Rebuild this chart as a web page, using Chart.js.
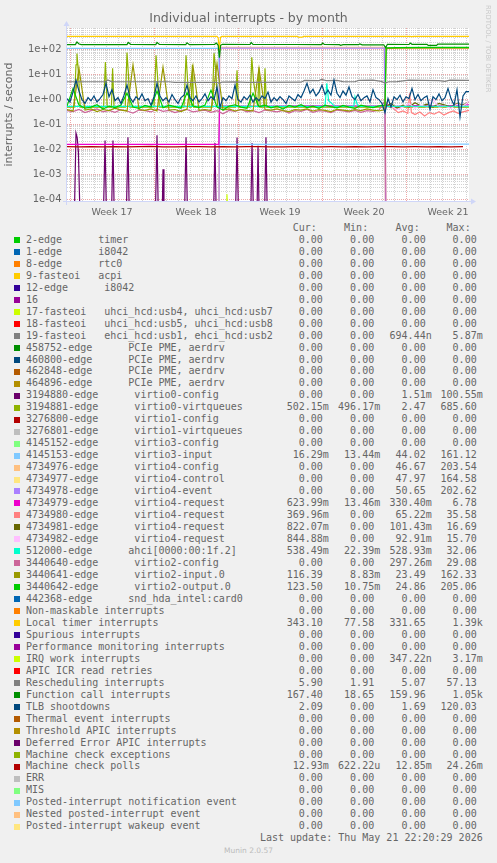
<!DOCTYPE html>
<html>
<head>
<meta charset="utf-8">
<title>Individual interrupts - by month</title>
<script src="https://cdn.jsdelivr.net/npm/chart.js@4.4.1/dist/chart.umd.min.js"></script>
<style>
  body { margin: 0; background: #F0F0F0; width: 497px; height: 863px; position: relative; overflow: hidden; }
  #chart { position: absolute; left: 0; top: 0; }
  #title { position: absolute; left: 0; top: 10px; width: 497px; text-align: center; font: 12.5px "DejaVu Sans"; line-height: 15px; color: #666; }
  #credit { position: absolute; left: 484px; top: 5px; writing-mode: vertical-rl; font: 6.8px "DejaVu Sans"; line-height: 8px; color: #C8C8C8; }
  #munin { position: absolute; left: 0; top: 846px; width: 497px; text-align: center; font: 7.5px "DejaVu Sans"; line-height: 9px; color: #BBBBBB; }
  .t { position: absolute; font: 10px "DejaVu Sans Mono"; line-height: 12px; color: #666; white-space: pre; }
  .r { text-align: right; }
  .sw { position: absolute; width: 6px; height: 6px; }
</style>
</head>
<body>
<canvas id="chart" width="497" height="220"></canvas>
<div id="title">Individual interrupts - by month</div>
<div id="credit">RRDTOOL / TOBI OETIKER</div>
<div id="legend"></div>
<div id="munin">Munin 2.0.57</div>
<script>
// munin colour cycle
const palette = ['#00CC00','#0066B3','#FF8000','#FFCC00','#330099','#990099','#CCFF00','#FF0000','#808080',
  '#008F00','#00487D','#B35A00','#B38F00','#6B006B','#8FB300','#B30000','#BEBEBE',
  '#80FF80','#80C9FF','#FFC080','#FFE680','#AA80FF','#EE00CC','#FF8080',
  '#666600','#FFBFFF','#00FFCC','#CC6699','#999900'];

const legendLabels = [
  '2-edge      timer', '1-edge      i8042', '8-edge      rtc0', '9-fasteoi   acpi', '12-edge      i8042', '16',
  '17-fasteoi   uhci_hcd:usb4, uhci_hcd:usb7', '18-fasteoi   uhci_hcd:usb5, uhci_hcd:usb8',
  '19-fasteoi   ehci_hcd:usb1, ehci_hcd:usb2',
  '458752-edge      PCIe PME, aerdrv', '460800-edge      PCIe PME, aerdrv',
  '462848-edge      PCIe PME, aerdrv', '464896-edge      PCIe PME, aerdrv',
  '3194880-edge      virtio0-config', '3194881-edge      virtio0-virtqueues',
  '3276800-edge      virtio1-config', '3276801-edge      virtio1-virtqueues',
  '4145152-edge      virtio3-config', '4145153-edge      virtio3-input',
  '4734976-edge      virtio4-config', '4734977-edge      virtio4-control',
  '4734978-edge      virtio4-event', '4734979-edge      virtio4-request',
  '4734980-edge      virtio4-request', '4734981-edge      virtio4-request',
  '4734982-edge      virtio4-request', '512000-edge      ahci[0000:00:1f.2]',
  '3440640-edge      virtio2-config', '3440641-edge      virtio2-input.0',
  '3440642-edge      virtio2-output.0', '442368-edge      snd_hda_intel:card0',
  'Non-maskable interrupts', 'Local timer interrupts', 'Spurious interrupts',
  'Performance monitoring interrupts', 'IRQ work interrupts', 'APIC ICR read retries',
  'Rescheduling interrupts', 'Function call interrupts', 'TLB shootdowns',
  'Thermal event interrupts', 'Threshold APIC interrupts', 'Deferred Error APIC interrupts',
  'Machine check exceptions', 'Machine check polls', 'ERR', 'MIS',
  'Posted-interrupt notification event', 'Nested posted-interrupt event', 'Posted-interrupt wakeup event'
];

const Z = '0.00';
const curVals = [
  Z,Z,Z,Z,Z,Z,Z,Z,Z,Z,
  Z,Z,Z,Z,'502.15m',Z,Z,Z,'16.29m',Z,
  Z,Z,'623.99m','369.96m','822.07m','844.88m','538.49m',Z,'116.39','123.50',
  Z,Z,'343.10',Z,Z,Z,Z,'5.90','167.40','2.09',
  Z,Z,Z,Z,'12.93m',Z,Z,Z,Z,Z];
const minVals = [
  Z,Z,Z,Z,Z,Z,Z,Z,Z,Z,
  Z,Z,Z,Z,'496.17m',Z,Z,Z,'13.44m',Z,
  Z,Z,'13.46m',Z,Z,Z,'22.39m',Z,'8.83m','10.75m',
  Z,Z,'77.58',Z,Z,Z,Z,'1.91','18.65',Z,
  Z,Z,Z,Z,'622.22u',Z,Z,Z,Z,Z];
const avgVals = [
  Z,Z,Z,Z,Z,Z,Z,Z,'694.44n',Z,
  Z,Z,Z,'1.51m','2.47',Z,Z,Z,'44.02','46.67',
  '47.97','50.65','330.40m','65.22m','101.43m','92.91m','528.93m','297.26m','23.49','24.86',
  Z,Z,'331.65',Z,Z,'347.22n',Z,'5.07','159.96','1.69',
  Z,Z,Z,Z,'12.85m',Z,Z,Z,Z,Z];
const maxVals = [
  Z,Z,Z,Z,Z,Z,Z,Z,'5.87m',Z,
  Z,Z,Z,'100.55m','685.60',Z,Z,Z,'161.12','203.54',
  '164.58','202.62','6.78','35.58','16.69','15.70','32.06','29.08','162.33','205.06',
  Z,Z,'1.39k',Z,Z,'3.17m',Z,'57.13','1.05k','120.03',
  Z,Z,Z,Z,'24.26m',Z,Z,Z,Z,Z];

// axes: x in days from the left edge of the graph
const xDays = 33.5;
const weekStarts = [0.25, 7.25, 14.25, 21.25, 28.25];
const weekMids = [3.75, 10.75, 17.75, 24.75, 31.75];
const weekLabels = ['Week 17', 'Week 18', 'Week 19', 'Week 20', 'Week 21'];
const yMin = 8.55e-5, yMax = 745;
const yDecades = [1e-4, 1e-3, 1e-2, 1e-1, 1, 10, 100];
const yDecadeLabels = ['1e-04', '1e-03', '1e-02', '1e-01', '1e+00', '1e+01', '1e+02'];

// series ([day, value] pairs unless noted); values under yMin run off the bottom
const localTimer = [[0,345],[12.5,345],[12.6,300],[12.68,100],[12.8,320],[12.9,345],[19.2,345],[19.3,318],[19.6,318],[19.7,345],[28.6,345],[28.7,335],[28.9,345],[33.5,343]];
const functionCall = [[0,160],[0.7,160],[0.83,205],[1.0,170],[1.2,160],[5.0,160],[5.1,195],[5.3,165],[7.4,160],[7.5,195],[7.7,162],
  [9.9,160],[10.0,190],[10.2,160],[12.3,165],[12.45,185],[12.6,150],[12.7,48],[12.8,150],[12.95,165],[15.25,162],[15.35,195],[15.5,165],
  [19,162],[21.2,160],[21.3,185],[21.45,162],[22.7,160],[22.8,150],[23,160],[24.3,160],[24.4,172],[24.6,158],[26.4,158],[26.55,120],
  [26.7,165],[28.5,162],[28.6,185],[28.75,165],[30.0,165],[30.1,150],[30.8,150],[30.9,168],[33.5,167]];
const rescheduling = [[0,5.2],[3.2,5.2],[3.4,6.1],[3.7,5.3],[8.5,5.2],[9,4.9],[12.5,4.9],[12.7,4.5],[12.9,5.0],[14,5.1],[15,4.9],
  [19.5,5.0],[19.8,5.9],[21,5.8],[21.2,6.4],[21.6,5.8],[22.5,5.9],[23,5.3],[24,5.2],[24.3,5.9],[25.5,6.0],[26.2,5.4],[26.5,4.6],
  [26.8,5.2],[27.5,5.3],[28.5,6.0],[31,5.8],[31.5,5.4],[31.9,6.0],[33.5,5.9]];
const virtio3Input = [[0,114],[12.65,114],[12.72,0.016],[33.5,0.0163]];
const virtio4Config = [[12.66,1e-5],[12.72,124],[26.45,124],[26.55,1e-5]];
const virtio4Control = [[12.66,1e-5],[12.72,120],[26.45,120],[26.55,1e-5]];
const virtio4Event = [[12.66,1e-5],[12.72,116],[26.45,116],[26.55,1e-5]];
const virtio4Req0 = [[0,0.016],[12.65,0.016],[12.72,0.55],[16,0.54],[20,0.56],[26.4,0.55],[26.6,0.62],[27,0.52],[29,0.58],[31,0.55],[33.5,0.62]];
const virtio4Req1 = [[26.55,0.8],[26.8,0.6],[27.2,0.45],[27.6,0.3],[28.0,0.35],[28.4,0.28],[28.55,1.8],[28.7,0.3],[29.0,0.25],[29.4,0.32],
  [29.8,0.22],[30.2,0.3],[30.6,0.26],[31.0,0.33],[31.4,0.24],[31.8,0.3],[32.2,0.35],[32.6,0.28],[33.0,0.32],[33.5,0.37]];
const virtio4Req2 = [[26.55,0.5],[27,0.7],[27.5,0.45],[28,0.6],[28.5,0.5],[29,0.75],[29.5,0.55],[30,0.65],[30.5,0.5],[31,0.7],[31.5,0.6],[32,0.5],[32.5,0.7],[33,0.6],[33.5,0.82]];
const virtio4Req3 = [[26.55,0.45],[27,0.55],[27.5,0.4],[28,0.5],[28.5,0.7],[29,0.45],[29.5,0.6],[30,0.5],[30.5,1.0],[31,0.5],[31.5,0.55],[32,0.45],[32.5,0.65],[33,0.55],[33.5,0.84]];
const ahci = [[0,0.53],[21.5,0.53],[21.65,4.5],[21.8,0.9],[22.0,0.75],[22.3,0.53],[23.9,0.53],[24.0,1.3],[24.2,0.6],[24.4,0.53],[33.5,0.54]];
const virtio0Queues = [[0,0.5],[0.6,0.5],[0.75,25],[0.83,70],[0.95,12],[1.1,0.5],[3.05,0.5],[3.2,32],[3.35,0.5],[3.7,0.5],[3.8,18],[3.92,0.5],
  [4.85,0.5],[5.0,78],[5.12,10],[5.25,0.5],[7.25,0.5],[7.42,60],[7.55,8],[7.7,0.5],[9.75,0.5],[9.92,60],[10.05,6],[10.2,0.5],
  [10.35,0.5],[10.45,25],[10.55,0.5],[12.1,0.5],[12.25,73],[12.4,15],[12.55,0.5],[14.05,0.5],[14.17,15],[14.3,0.5],
  [15.25,0.5],[15.4,50],[15.55,5],[15.9,0.5],[16.0,20],[16.1,0.5],[16.42,0.5],[16.5,18],[16.62,0.5],[33.5,0.5]];
const virtio0Config = [[0.6,1e-5],[0.75,0.045],[0.85,0.03],[0.95,0.008],[1.1,1e-5],[1.2,null],
  [3.02,1e-5],[3.17,0.023],[3.3,1e-5],[3.4,null],[3.7,1e-5],[3.83,0.023],[3.95,1e-5],[4.0,null],
  [4.93,1e-5],[5.08,0.031],[5.2,1e-5],[5.3,null],[7.35,1e-5],[7.5,0.037],[7.62,1e-5],[7.7,null],
  [7.92,1e-5],[8.0,0.0016],[8.08,1e-5],[8.2,null],[9.78,1e-5],[9.92,0.031],[10.05,1e-5],[10.1,null],
  [12.2,1e-5],[12.33,0.018],[12.45,1e-5],[12.5,null],[14.03,1e-5],[14.17,0.03],[14.3,1e-5],[14.4,null],
  [15.3,1e-5],[15.42,0.018],[15.55,1e-5],[15.6,null],[15.82,1e-5],[15.92,0.014],[16.02,1e-5],[16.1,null],
  [16.45,1e-5],[16.58,0.031],[16.7,1e-5]];
const irqWork = [[13.25,1e-5],[13.33,1.6e-4],[13.42,1e-5]];

// half-day samples of the busy band below 1e+00 (day 0 .. 26.5)
const halfDay = 0.5;
const virtio2OutLow = [0.55,2.8,0.6,0.45,0.5,0.62,0.42,0.55,0.48,0.6, 1.8,0.5,0.44,0.58,0.5,2.2,0.47,0.6,0.52,0.45,
  1.9,0.55,0.48,0.6,2.4,0.5,0.38,0.55,0.62,0.5, 0.45,1.8,0.52,0.6,0.47,0.55,0.42,0.58,0.5,0.62,
  0.48,0.55,0.45,0.6,0.52,0.47,0.58,0.5,0.44,0.6, 0.52,0.48,0.56,0.6];
const virtio2OutHigh = [[26.6,118],[27.5,122],[30,124],[33.5,123.5]];
const virtio2InLow = [0.4,0.35,18,0.38,0.42,0.33,0.4,0.36,0.45,0.38, 0.35,25,0.4,0.37,0.42,0.35,20,0.38,0.4,0.33,
  0.42,22,0.37,0.4,0.36,28,0.38,0.42,0.35,0.4, 0.37,0.35,18,0.4,0.38,0.42,0.36,0.33,0.4,0.38,
  0.42,0.35,0.4,0.37,0.33,0.41,0.38,0.35,0.4,0.36, 0.42,0.38,0.35,0.4];
const virtio2InHigh = [[26.6,114],[28,116],[31,117],[33.5,116.4]];
const virtio2ConfigLow = [0.36,0.33,0.4,0.3,0.36,0.42,0.32,0.37,0.31,0.4, 0.35,0.29,0.38,0.36,0.32,0.41,0.34,0.37,0.3,0.36,
  0.4,0.32,0.35,0.38,0.31,0.36,0.27,0.37,0.34,0.4, 0.32,0.36,0.3,0.38,0.35,0.32,0.37,0.29,0.36,0.34,
  0.4,0.31,0.36,0.34,0.3,0.38,0.35,0.32,0.37,0.31, 0.36,0.34,0.38,0.9];
const virtio2ConfigTail = [[26.6,1e-5]];

// quarter-day samples
const tlbStep = 0.25;
const tlbValues = [
  1.1,0.8,2.0,6.0,2.2,1.0,0.7,1.2,0.9,1.4,
  0.8,1.1,1.6,4.5,1.3,2.5,0.9,1.2,0.7,1.5,
  3.8,1.2,0.8,1.3,1.0,1.7,0.9,1.1,0.6,1.3,
  4.5,1.4,0.9,1.2,0.8,1.6,1.0,0.7,1.2,1.5,
  3.8,1.2,0.9,1.4,0.8,1.1,1.7,0.9,1.3,1.0,
  3.2,0.5,1.2,0.9,1.4,1.1,3.8,1.0,0.8,1.3,
  1.0,1.5,0.8,1.2,0.9,1.4,1.1,2.0,0.8,1.2,
  0.9,1.3,1.0,0.7,1.4,1.1,0.9,1.6,1.2,2.2,
  4.5,1.8,2.6,1.4,2.0,3.8,1.6,2.4,1.5,6.0,
  1.8,1.2,2.2,1.5,3.2,1.3,1.0,1.6,0.9,1.2,
  1.4,0.8,2.5,1.2,1.0,0.7,0.3,1.1,0.5,1.3,
  1.0,1.5,0.8,1.3,1.1,2.8,1.0,1.6,0.9,1.2,
  1.4,0.4,1.3,1.0,1.7,0.9,1.2,2.8,1.1,0.6,
  2.5,0.2,1.4,2.1,2.09];

// daily samples
const mcpStep = 1;
const mcpValues = [0.0129,0.0127,0.0131,0.0128,0.013,0.0126,0.0129,0.0132,0.0128,0.0127,0.013,0.0129,0.0128,0.0131,0.0127,0.0129,0.013,
  0.0128,0.0126,0.0129,0.0131,0.0128,0.0129,0.0127,0.013,0.0128,0.0129,0.0131,0.0127,0.0129,0.0128,0.013,0.0128,0.0129];

function fromPairs(pairs) { return pairs.map(p => ({ x: p[0], y: p[1] })); }
function fromSteps(values, step) { return values.map((v, i) => ({ x: i * step, y: v })); }

// legend index -> data
const series = [
  [13, fromPairs(virtio0Config)],
  [14, fromPairs(virtio0Queues)],
  [18, fromPairs(virtio3Input)],
  [19, fromPairs(virtio4Config)],
  [20, fromPairs(virtio4Control)],
  [21, fromPairs(virtio4Event)],
  [22, fromPairs(virtio4Req0)],
  [23, fromPairs(virtio4Req1)],
  [24, fromPairs(virtio4Req2)],
  [25, fromPairs(virtio4Req3)],
  [26, fromPairs(ahci)],
  [27, fromSteps(virtio2ConfigLow, halfDay).concat(fromPairs(virtio2ConfigTail))],
  [28, fromSteps(virtio2InLow, halfDay).concat(fromPairs(virtio2InHigh))],
  [29, fromSteps(virtio2OutLow, halfDay).concat(fromPairs(virtio2OutHigh))],
  [32, fromPairs(localTimer)],
  [35, fromPairs(irqWork)],
  [37, fromPairs(rescheduling)],
  [38, fromPairs(functionCall)],
  [39, fromSteps(tlbValues, tlbStep)],
  [44, fromSteps(mcpValues, mcpStep)]
];

const datasets = series.map(([idx, data]) => ({
  label: legendLabels[idx],
  data: data,
  borderColor: palette[idx % palette.length],
  borderWidth: 1.2,
  pointRadius: 0,
  tension: 0,
  fill: false,
  spanGaps: false,
  order: -idx   // later munin fields painted on top
}));

const minorGrid = 'rgba(143,143,143,0.4)';
const majorGrid = 'rgba(222,80,80,0.5)';
function gridColor(c) {
  if (!c.tick) return 'rgba(0,0,0,0)';
  if (c.tick.kind === 'major') return majorGrid;
  if (c.tick.kind === 'minor') return minorGrid;
  return 'rgba(0,0,0,0)';
}

const munin = {
  id: 'munin',
  beforeDraw(chart) {
    const { ctx, chartArea: a } = chart;
    ctx.save();
    ctx.fillStyle = '#FFFFFF';
    ctx.fillRect(a.left, a.top, a.right - a.left, a.bottom - a.top);
    ctx.restore();
  },
  afterDatasetsDraw(chart) {
    const { ctx, chartArea: a } = chart;
    const x0 = a.left - 0.5, y0 = a.bottom + 0.5;
    ctx.save();
    ctx.strokeStyle = '#CFD6F8';
    ctx.fillStyle = '#CFD6F8';
    ctx.lineWidth = 1;
    ctx.beginPath();
    ctx.moveTo(a.left - 4, y0); ctx.lineTo(a.right + 3, y0);
    ctx.moveTo(x0, a.bottom + 4); ctx.lineTo(x0, a.top - 2);
    ctx.stroke();
    ctx.beginPath();
    ctx.moveTo(a.right + 2, y0 - 3); ctx.lineTo(a.right + 7, y0); ctx.lineTo(a.right + 2, y0 + 3);
    ctx.closePath(); ctx.fill();
    ctx.beginPath();
    ctx.moveTo(x0 - 3, a.top - 2); ctx.lineTo(x0, a.top - 7); ctx.lineTo(x0 + 3, a.top - 2);
    ctx.closePath(); ctx.fill();
    ctx.restore();
  }
};

new Chart(document.getElementById('chart'), {
  type: 'line',
  data: { datasets },
  options: {
    responsive: false,
    animation: false,
    devicePixelRatio: 1,
    layout: { padding: { left: 0, right: 28, top: 28, bottom: 0 } },
    plugins: { legend: { display: false }, tooltip: { enabled: false } },
    scales: {
      x: {
        type: 'linear',
        bounds: 'data',
        min: 0,
        max: xDays,
        afterFit(scale) { scale.height = 19; },
        afterBuildTicks(scale) {
          const ticks = [];
          for (let d = 0.25; d < xDays; d += 1) {
            ticks.push({ value: d, kind: weekStarts.includes(d) ? 'major' : 'minor' });
          }
          weekMids.forEach((v, i) => ticks.push({ value: v, kind: 'label', text: weekLabels[i] }));
          scale.ticks = ticks;
        },
        ticks: {
          autoSkip: false,
          maxRotation: 0,
          minRotation: 0,
          padding: 5.5,
          color: '#666',
          font: { family: 'DejaVu Sans', size: 9.5 },
          callback: (v, i, ticks) => ticks[i].kind === 'label' ? ticks[i].text : ''
        },
        grid: { drawTicks: false, lineWidth: 1, color: gridColor },
        border: { display: false, dash: [1, 1] }
      },
      y: {
        type: 'logarithmic',
        bounds: 'data',
        min: yMin,
        max: yMax,
        afterFit(scale) { scale.width = 67; },
        afterBuildTicks(scale) {
          const ticks = [];
          yDecades.forEach(dec => {
            ticks.push({ value: dec, kind: 'major' });
            for (let m = 2; m <= 9; m++) {
              if (m * dec < yMax) ticks.push({ value: m * dec, kind: 'minor' });
            }
          });
          scale.ticks = ticks;
        },
        ticks: {
          autoSkip: false,
          padding: 5.5,
          color: '#666',
          font: { family: 'DejaVu Sans', size: 10 },
          callback: v => {
            const i = yDecades.indexOf(v);
            return i >= 0 ? yDecadeLabels[i] : '';
          }
        },
        grid: { drawTicks: false, lineWidth: 1, color: gridColor },
        border: { display: false, dash: [1, 1] },
        title: {
          display: true,
          text: 'interrupts / second',
          color: '#666',
          font: { family: 'DejaVu Sans', size: 11 },
          padding: { top: 3, bottom: 0 }
        }
      }
    }
  },
  plugins: [munin]
});

// legend table below the graph
const legend = document.getElementById('legend');
const colEdges = [328.8, 380.2, 431.7, 482.7];
const rowTop = 233.8, rowStep = 11.97;

function addText(text, top, left, rightEdge) {
  const el = document.createElement('div');
  el.className = 't';
  el.textContent = text;
  el.style.top = top + 'px';
  if (rightEdge !== undefined) {
    el.classList.add('r');
    el.style.right = (497 - rightEdge) + 'px';
  } else {
    el.style.left = left + 'px';
  }
  legend.appendChild(el);
}
function withSuffix(s) { return /[0-9]$/.test(s) ? s + ' ' : s; }

['Cur:  ', 'Min:  ', 'Avg:  ', 'Max:  '].forEach((h, c) => addText(h, 222, 0, colEdges[c]));

legendLabels.forEach((name, i) => {
  const top = rowTop + i * rowStep;
  const sw = document.createElement('div');
  sw.className = 'sw';
  sw.style.left = '14px';
  sw.style.top = (top + 3.3) + 'px';
  sw.style.background = palette[i % palette.length];
  legend.appendChild(sw);
  addText(name, top, 26);
  [curVals, minVals, avgVals, maxVals].forEach((col, c) => addText(withSuffix(col[i]), top, 0, colEdges[c]));
});

addText('Last update: Thu May 21 22:20:29 2026', rowTop + 50 * rowStep, 0, 482.7);
</script>
</body>
</html>
